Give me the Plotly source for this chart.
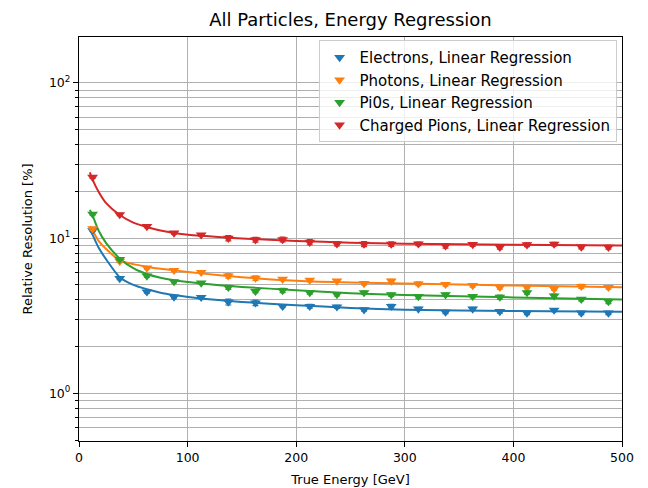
import plotly.graph_objects as go

# Measured points (bin centres, GeV)
energy = [12.5, 37.5, 62.5, 87.5, 112.5, 137.5, 162.5, 187.5, 212.5, 237.5,
          262.5, 287.5, 312.5, 337.5, 362.5, 387.5, 412.5, 437.5, 462.5, 487.5]

electrons = [11.2, 5.5, 4.51, 4.18, 4.16, 3.88, 3.83, 3.64, 3.64, 3.61,
             3.46, 3.64, 3.50, 3.34, 3.50, 3.37, 3.30, 3.44, 3.30, 3.30]
photons = [11.5, 7.1, 6.43, 6.2, 6.02, 5.72, 5.53, 5.44, 5.37, 5.30,
           5.11, 5.30, 5.08, 5.04, 4.96, 4.82, 4.83, 4.71, 4.89, 4.82]
pi0s = [14.3, 7.3, 5.71, 5.25, 5.15, 4.82, 4.54, 4.60, 4.46, 4.34,
        4.46, 4.32, 4.21, 4.32, 4.22, 4.17, 4.46, 4.24, 4.04, 3.91]
charged_pions = [24.7, 14.2, 11.9, 10.8, 10.5, 10.0, 9.78, 9.8, 9.42, 9.2,
                 9.16, 9.16, 9.19, 8.92, 9.10, 8.75, 9.07, 9.16, 8.78, 8.75]

electrons_err = [0.2, 0.1, 0.08, 0.08, 0.1, 0.17, 0.16, 0.08, 0.1, 0.08,
                 0.08, 0.1, 0.08, 0.08, 0.08, 0.08, 0.08, 0.08, 0.08, 0.08]
photons_err = [0.2, 0.15, 0.12, 0.12, 0.1, 0.2, 0.18, 0.12, 0.12, 0.1,
               0.12, 0.12, 0.14, 0.14, 0.12, 0.12, 0.12, 0.1, 0.14, 0.12]
pi0s_err = [0.25, 0.12, 0.1, 0.1, 0.1, 0.15, 0.1, 0.14, 0.1, 0.1,
            0.1, 0.1, 0.12, 0.1, 0.1, 0.12, 0.1, 0.12, 0.1, 0.12]
charged_pions_err = [0.4, 0.25, 0.2, 0.2, 0.2, 0.4, 0.35, 0.35, 0.35, 0.3,
                     0.35, 0.3, 0.25, 0.3, 0.25, 0.25, 0.25, 0.25, 0.25, 0.25]

# Fitted resolution curves
fit_energy = [10, 12.5, 18, 25, 37.5, 50, 62.5, 75, 87.5, 112.5, 150, 200, 250, 300, 400, 500]
electrons_fit = [11.4, 10.5, 8.7, 7.3, 5.6, 5.0, 4.68, 4.45, 4.3, 4.08, 3.88, 3.70, 3.55, 3.46, 3.39, 3.35]
photons_fit = [11.9, 11.2, 9.6, 8.5, 7.2, 6.8, 6.55, 6.35, 6.2, 5.93, 5.6, 5.31, 5.17, 5.10, 4.95, 4.82]
pi0s_fit = [15.2, 14.0, 11.2, 9.3, 7.4, 6.4, 5.87, 5.55, 5.35, 5.10, 4.85, 4.62, 4.42, 4.30, 4.15, 4.03]
charged_pions_fit = [26.5, 23.8, 19.9, 16.8, 14.1, 12.6, 11.8, 11.2, 10.8, 10.35, 9.95, 9.6, 9.35, 9.2, 9.05, 8.95]

names = ["Electrons, Linear Regression", "Photons, Linear Regression",
         "Pi0s, Linear Regression", "Charged Pions, Linear Regression"]
colors = ["#1f77b4", "#ff7f0e", "#2ca02c", "#d62728"]
series = [electrons, photons, pi0s, charged_pions]
errors = [electrons_err, photons_err, pi0s_err, charged_pions_err]
fits = [electrons_fit, photons_fit, pi0s_fit, charged_pions_fit]

x_ticks = [0, 100, 200, 300, 400, 500]
y_ticks = [1, 10, 100]
y_ticktext = ["10<sup>0</sup>", "10<sup>1</sup>", "10<sup>2</sup>"]

FONT = "DejaVu Sans"

fig = go.Figure()
for name, c, ys, es, fy in zip(names, colors, series, errors, fits):
    fig.add_trace(go.Scatter(
        x=fit_energy, y=fy, mode="lines", showlegend=False,
        line=dict(color=c, width=2, shape="spline", smoothing=0.6),
    ))
for name, c, ys, es, fy in zip(names, colors, series, errors, fits):
    fig.add_trace(go.Scatter(
        x=energy, y=ys, mode="markers", name=name,
        marker=dict(symbol="triangle-down", size=9.5, color=c, line=dict(width=0)),
        error_y=dict(type="data", array=es, color=c, thickness=1.2, width=3),
    ))

fig.update_layout(
    width=648, height=488,
    margin=dict(l=79, r=26, t=37, b=47),
    paper_bgcolor="white", plot_bgcolor="white",
    font=dict(family=FONT, size=12.5, color="black"),
    title=dict(text="All Particles, Energy Regression", x=(79 + 622) / 2 / 648,
               xanchor="center", y=1 - 20 / 488, yanchor="middle",
               font=dict(family=FONT, size=18, color="black")),
    showlegend=True,
    legend=dict(x=0.99, xanchor="right", y=0.992, yanchor="top",
                bgcolor="rgba(255,255,255,0.8)", bordercolor="#cccccc", borderwidth=1,
                font=dict(family=FONT, size=15, color="black"), tracegroupgap=0),
)
fig.update_xaxes(
    range=[0, 500], tickvals=x_ticks, ticks="outside", ticklen=5, tickwidth=1,
    tickcolor="black", showline=True, linecolor="black", linewidth=1.2, mirror=True,
    showgrid=True, gridcolor="#b0b0b0", gridwidth=1.2, zeroline=False,
    tickfont=dict(family=FONT, size=12.5, color="black"), automargin=False,
    title=dict(text="True Energy [GeV]", standoff=10,
               font=dict(family=FONT, size=13, color="black")),
)
fig.update_yaxes(
    type="log", range=[-0.307, 2.296], tickvals=y_ticks, ticktext=y_ticktext,
    ticks="outside", ticklen=5, tickwidth=1, tickcolor="black",
    showline=True, linecolor="black", linewidth=1.2, mirror=True,
    showgrid=True, gridcolor="#b0b0b0", gridwidth=1.2, zeroline=False,
    tickfont=dict(family=FONT, size=12.5, color="black"), automargin=False,
    minor=dict(dtick="D1", ticks="outside", ticklen=3, tickcolor="black",
               showgrid=True, gridcolor="#b0b0b0", gridwidth=1.2),
    title=dict(text="Relative Resolution [%]", standoff=13,
               font=dict(family=FONT, size=13, color="black")),
)

fig.write_html("out.html")
